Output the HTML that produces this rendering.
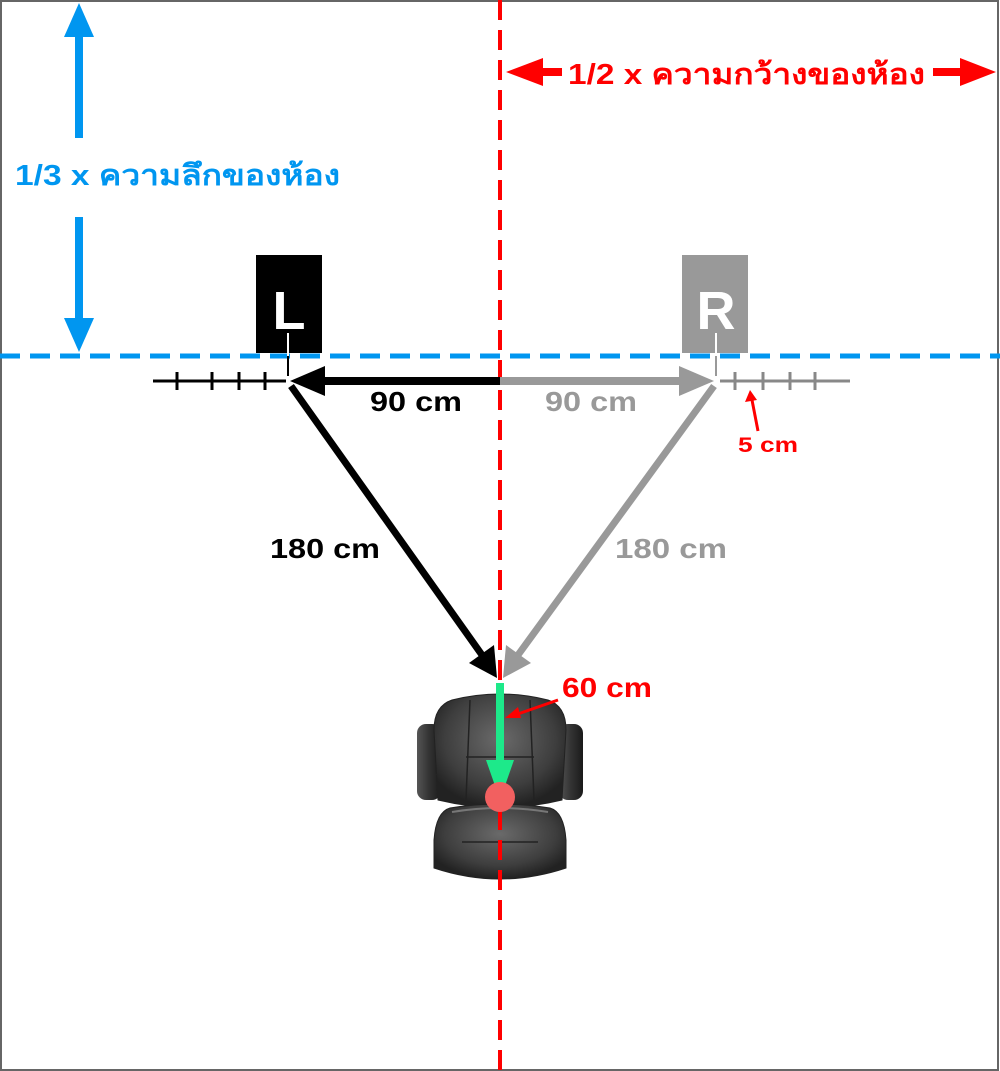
<!DOCTYPE html>
<html><head><meta charset="utf-8"><style>
html,body{margin:0;padding:0;background:#fff}
svg{display:block}
text{font-family:"Liberation Sans","DejaVu Sans",sans-serif;font-weight:bold}
</style></head><body>
<svg width="1000" height="1071" viewBox="0 0 1000 1071" xmlns="http://www.w3.org/2000/svg">
<defs>
<radialGradient id="seat" cx="50%" cy="40%" r="60%"><stop offset="0" stop-color="#6a6a6a"/><stop offset="0.7" stop-color="#3e3e3e"/><stop offset="1" stop-color="#222"/></radialGradient>
<linearGradient id="arm" x1="0" x2="1"><stop offset="0" stop-color="#555"/><stop offset="0.5" stop-color="#333"/><stop offset="1" stop-color="#1a1a1a"/></linearGradient>
</defs>
<rect x="1" y="1" width="997" height="1069" fill="#fff" stroke="#666" stroke-width="2"/>
<!-- chair -->
<rect x="417" y="724" width="24" height="76" rx="9" fill="url(#arm)"/>
<rect x="559" y="724" width="24" height="76" rx="9" fill="url(#arm)"/>
<rect x="436" y="745" width="10" height="30" fill="#777"/>
<rect x="554" y="745" width="10" height="30" fill="#777"/>
<path d="M452 700 Q500 688 548 700 Q566 706 566 730 L562 800 Q500 815 438 800 L434 730 Q434 706 452 700Z" fill="url(#seat)" stroke="#222" stroke-width="1"/>
<path d="M470 700 L466 800 M530 700 L534 800 M466 757 L534 757" stroke="#222" stroke-width="1.5" fill="none"/>
<path d="M450 808 Q500 800 550 808 Q564 812 566 840 L566 868 Q500 890 434 868 L434 840 Q436 812 450 808Z" fill="url(#seat)" stroke="#222" stroke-width="1"/>
<path d="M462 842 L538 842" stroke="#222" stroke-width="1.5"/>
<path d="M452 812 Q500 804 548 812" stroke="#777" stroke-width="2" fill="none"/>
<!-- red dashed vertical -->
<line x1="500" y1="0" x2="500" y2="1071" stroke="#f00" stroke-width="4" stroke-dasharray="20,10"/>
<!-- blue dashed horizontal -->
<line x1="0" y1="356" x2="1000" y2="356" stroke="#0096f0" stroke-width="5" stroke-dasharray="20,10"/>
<!-- blue arrows -->
<rect x="75" y="35" width="8" height="103" fill="#0096f0"/>
<polygon points="79,3 64,37 94,37" fill="#0096f0"/>
<rect x="75" y="217" width="8" height="103" fill="#0096f0"/>
<polygon points="79,352 64,318 94,318" fill="#0096f0"/>
<text x="15" y="185" font-size="29" fill="#0096f0" textLength="325" lengthAdjust="spacingAndGlyphs">1/3 x ความลึกของห้อง</text>
<!-- red width arrows -->
<polygon points="506,72 543,58 543,86" fill="#f00"/>
<rect x="540" y="68" width="22" height="8" fill="#f00"/>
<rect x="933" y="68" width="30" height="8" fill="#f00"/>
<polygon points="996,72 960,58 960,86" fill="#f00"/>
<text x="568" y="84" font-size="29" fill="#f00" textLength="357" lengthAdjust="spacingAndGlyphs">1/2 x ความกว้างของห้อง</text>
<!-- speakers -->
<rect x="256" y="255" width="66" height="98" fill="#000"/>
<text x="289" y="329" font-size="54" fill="#fff" text-anchor="middle">L</text>
<line x1="288" y1="333" x2="288" y2="380" stroke="#fff" stroke-width="2"/>
<rect x="682" y="255" width="66" height="98" fill="#999"/>
<text x="716" y="329" font-size="54" fill="#fff" text-anchor="middle">R</text>
<line x1="716" y1="333" x2="716" y2="380" stroke="#fff" stroke-width="2"/>
<line x1="288" y1="356" x2="288" y2="376" stroke="#000" stroke-width="2"/>
<line x1="716" y1="356" x2="716" y2="376" stroke="#999" stroke-width="2"/>
<!-- rulers -->
<line x1="153" y1="381" x2="286" y2="381" stroke="#000" stroke-width="3"/>
<g stroke="#000" stroke-width="3"><line x1="177" y1="372" x2="177" y2="390"/><line x1="212" y1="372" x2="212" y2="390"/><line x1="239" y1="372" x2="239" y2="390"/><line x1="265" y1="372" x2="265" y2="390"/></g>
<line x1="720" y1="381" x2="850" y2="381" stroke="#888" stroke-width="3"/>
<g stroke="#888" stroke-width="3"><line x1="735" y1="372" x2="735" y2="390"/><line x1="763" y1="372" x2="763" y2="390"/><line x1="790" y1="372" x2="790" y2="390"/><line x1="815" y1="372" x2="815" y2="390"/></g>
<!-- 90cm arrows -->
<rect x="315" y="377" width="185" height="8" fill="#000"/>
<polygon points="290,381 325,366 325,396" fill="#000"/>
<rect x="500" y="377" width="185" height="8" fill="#999"/>
<polygon points="714,381 679,366 679,396" fill="#999"/>
<!-- 180 cm arrows -->
<line x1="291" y1="386" x2="482" y2="655" stroke="#000" stroke-width="7"/>
<polygon points="497,678 469,663 494,645" fill="#000"/>
<line x1="714" y1="386" x2="518" y2="655" stroke="#999" stroke-width="7"/>
<polygon points="503,678 531,663 506,645" fill="#999"/>
<!-- green arrow -->
<rect x="496" y="683" width="8" height="80" fill="#1de98a"/>
<polygon points="500,800 486,760 514,760" fill="#1de98a"/>
<circle cx="500" cy="797" r="15" fill="#f26060"/>
<!-- red pointer arrows -->
<line x1="558" y1="700" x2="515" y2="715" stroke="#f00" stroke-width="3"/>
<polygon points="505,718 518,707 521,718" fill="#f00"/>
<line x1="758" y1="431" x2="752" y2="400" stroke="#f00" stroke-width="3"/>
<polygon points="750,390 745,402 757,400" fill="#f00"/>
<!-- labels -->
<text x="370" y="411" font-size="28" fill="#000" textLength="92" lengthAdjust="spacingAndGlyphs">90 cm</text>
<text x="545" y="411" font-size="28" fill="#999" textLength="92" lengthAdjust="spacingAndGlyphs">90 cm</text>
<text x="270" y="558" font-size="28" fill="#000" textLength="110" lengthAdjust="spacingAndGlyphs">180 cm</text>
<text x="615" y="558" font-size="28" fill="#999" textLength="112" lengthAdjust="spacingAndGlyphs">180 cm</text>
<text x="738" y="452" font-size="21" fill="#f00" textLength="60" lengthAdjust="spacingAndGlyphs">5 cm</text>
<text x="562" y="697" font-size="28" fill="#f00" textLength="90" lengthAdjust="spacingAndGlyphs">60 cm</text>
</svg>
</body></html>
